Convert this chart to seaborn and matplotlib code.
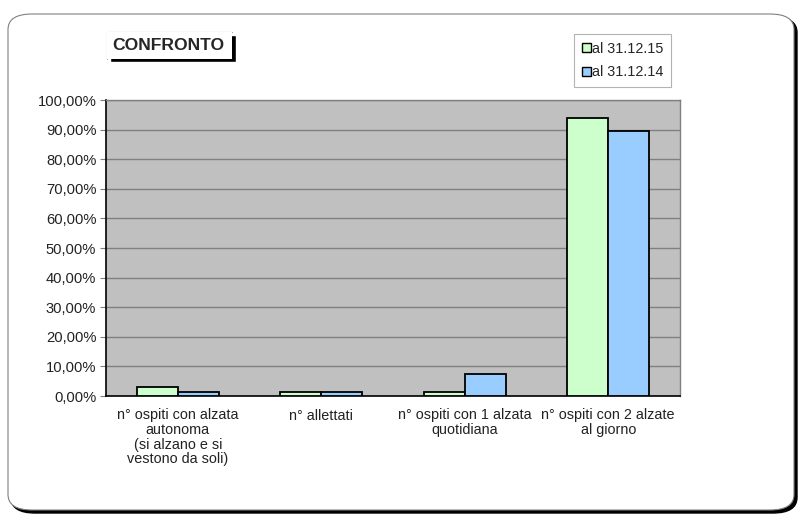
import pandas as pd
import matplotlib.pyplot as plt
import seaborn as sns
from matplotlib.patches import FancyBboxPatch, Rectangle, Patch
from matplotlib.ticker import FixedLocator

sns.set_style("white")
plt.rcParams["font.family"] = ["Liberation Sans", "DejaVu Sans"]

CATEGORIES = [
    "n° ospiti con alzata\nautonoma\n(si alzano e si\nvestono da soli)",
    "n° allettati",
    "n° ospiti con 1 alzata\nquotidiana",
    "n° ospiti con 2 alzate\nal giorno",
]
SERIES = ["al 31.12.15", "al 31.12.14"]
VALUES_2015 = [3.0, 1.5, 1.5, 93.8]
VALUES_2014 = [1.4, 1.4, 7.6, 89.4]
YTICKS = [0, 10, 20, 30, 40, 50, 60, 70, 80, 90, 100]
COLORS = {"al 31.12.15": "#CCFFCC", "al 31.12.14": "#99CCFF"}

W, H = 803, 517


def fx(x):
    return x / W


def fy(y):
    return 1 - y / H


def main():
    df = pd.DataFrame({
        "categoria": CATEGORIES * 2,
        "serie": [SERIES[0]] * 4 + [SERIES[1]] * 4,
        "valore": VALUES_2015 + VALUES_2014,
    })

    fig = plt.figure(figsize=(W / 100, H / 100), dpi=100)
    fig.patch.set_facecolor("white")

    # outer frame with shadow
    shadow = FancyBboxPatch((fx(11), fy(513)), fx(786), (510 - 14) / H,
                            boxstyle="round,pad=0,rounding_size=0.03",
                            transform=fig.transFigure, facecolor="black",
                            edgecolor="black", zorder=0)
    frame = FancyBboxPatch((fx(8), fy(510)), fx(786), (510 - 14) / H,
                           boxstyle="round,pad=0,rounding_size=0.03",
                           transform=fig.transFigure, facecolor="white",
                           edgecolor="#808080", linewidth=0.8, zorder=1)
    fig.patches.extend([shadow, frame])

    ax = fig.add_axes([fx(106), fy(396), fx(680 - 106), (396 - 100) / H])
    ax.set_zorder(3)
    ax.set_facecolor("#C0C0C0")

    sns.barplot(data=df, x="categoria", y="valore", hue="serie",
                palette=COLORS, hue_order=SERIES, width=0.571,
                edgecolor="black", linewidth=1.3, saturation=1,
                errorbar=None, legend=False, ax=ax, zorder=3)

    ax.set_ylim(0, 100)
    ax.set_xlim(-0.5, 3.5)
    ax.set_yticks(YTICKS)
    ax.set_yticklabels([f"{v:.2f}".replace(".", ",") + "%" for v in YTICKS],
                       fontsize=10.6, color="#222222")
    ax.yaxis.grid(True, color="#808080", linewidth=1)
    ax.set_axisbelow(True)
    ax.set_xticks(range(4))
    ax.set_xticklabels(CATEGORIES, fontsize=10.4, color="#222222",
                       linespacing=1.05)
    ax.tick_params(axis="x", which="major", length=0, pad=9)
    ax.xaxis.set_minor_locator(FixedLocator([-0.5, 0.5, 1.5, 2.5, 3.5]))
    ax.tick_params(axis="x", which="minor", length=4, color="#808080",
                   direction="out")
    ax.tick_params(axis="y", length=4, color="#808080", direction="out",
                   left=True, pad=3)
    ax.set_xlabel("")
    ax.set_ylabel("")
    for side in ["left", "bottom"]:
        ax.spines[side].set_color("black")
        ax.spines[side].set_linewidth(1.2)
    for side in ["top", "right"]:
        ax.spines[side].set_color("#808080")
        ax.spines[side].set_linewidth(1)

    # title box with shadow
    fig.patches.append(Rectangle((fx(110), fy(62)), fx(126), 27 / H,
                                 transform=fig.transFigure,
                                 facecolor="black", zorder=2))
    fig.patches.append(Rectangle((fx(107), fy(59)), fx(125), 27 / H,
                                 transform=fig.transFigure,
                                 facecolor="white", edgecolor="none",
                                 zorder=2))
    fig.lines.append(plt.Line2D([fx(107), fx(107), fx(232)],
                                [fy(59), fy(32), fy(32)],
                                transform=fig.transFigure, color="#A0A0A0",
                                linewidth=0.8, zorder=2))
    fig.text(fx(112), fy(46), "CONFRONTO", fontsize=12.6, fontweight="bold",
             ha="left", va="center", zorder=4)

    # legend
    handles = [Patch(facecolor=COLORS[s], edgecolor="black", linewidth=1)
               for s in SERIES]
    leg = fig.legend(handles, SERIES, loc="upper left",
                     bbox_to_anchor=(fx(574), fy(34)),
                     bbox_transform=fig.transFigure, fontsize=10.4,
                     frameon=True, fancybox=False, edgecolor="#A0A0A0",
                     handlelength=0.6, handleheight=0.6, handletextpad=0.1,
                     labelspacing=0.65, borderpad=0.55, borderaxespad=0)
    leg.get_frame().set_linewidth(0.8)
    leg.set_zorder(5)

    plt.savefig("out.png", dpi=100, facecolor="white")
    plt.close()


if __name__ == "__main__":
    main()
